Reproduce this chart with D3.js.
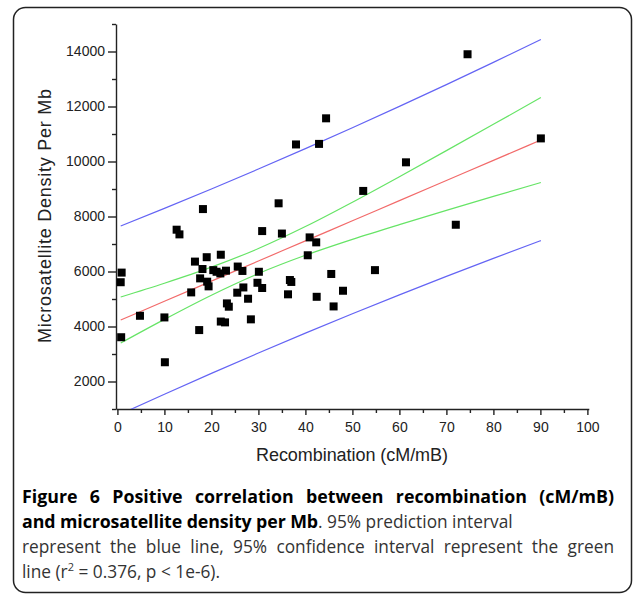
<!DOCTYPE html>
<html>
<head>
<meta charset="utf-8">
<script src="https://cdn.jsdelivr.net/npm/d3@7"></script>
<style>
  body { margin: 0; background: #fff; }
  .axis text { font-family: "Liberation Sans", Arial, sans-serif; font-size: 14px; fill: #222; }
  .axis path, .axis line { stroke: #222; stroke-width: 1.4; }
</style>
</head>
<body>
<div id="chart"></div>
<script>
// points
var recomb = [0.7, 0.9, 0.8, 4.8, 10.0, 10.1, 12.6, 13.2, 15.7, 16.5, 17.4, 17.6, 18.1, 19.0, 19.1, 19.4,
    20.4, 21.1, 22.0, 21.9, 22.0, 22.9, 23.1, 23.3, 23.7, 25.6, 25.5, 26.6, 26.8, 27.8, 28.4, 30.1, 29.8,
    30.8, 30.8, 35.0, 36.3, 36.7, 37.0, 40.9, 42.3, 40.5, 42.4, 45.5, 48.0, 46.0, 54.8, 72.0, 74.5, 90.1,
    61.4, 52.3, 44.4, 42.9, 38.0, 34.3, 18.2];
var density = [5610, 5960, 3610, 4390, 4330, 2700, 7520, 7350, 5240, 6360, 3870, 5750, 6090, 6520, 5630, 5460,
    6050, 5990, 6610, 5930, 4180, 4150, 6030, 4840, 4720, 6180, 5230, 6020, 5420, 5010, 4260, 5990, 5590,
    5400, 7470, 7380, 5170, 5690, 5620, 7240, 7060, 6590, 5080, 5910, 5300, 4730, 6050, 7700, 13900, 10840,
    9970, 8930, 11570, 10640, 10620, 8480, 8270];

// fitted line and interval curves, sampled from the figure
var curveX     = [0.7, 10, 20, 30, 40, 50, 60, 70, 80, 90.1];
var fitY       = [4236, 4917, 5649, 6381, 7113, 7845, 8577, 9309, 10041, 10780];
var confUpper  = [5072, 5574, 6159, 6836, 7635, 8520, 9448, 10395, 11352, 12324];
var confLower  = [3400, 4260, 5139, 5926, 6591, 7170, 7706, 8223, 8730, 9236];
var predUpper  = [7654, 8296, 9002, 9726, 10468, 11227, 12004, 12797, 13605, 14436];
var predLower  = [818, 1538, 2296, 3036, 3758, 4463, 5150, 5821, 6477, 7124];

var xMajor = d3.range(0, 101, 10);
var xMinor = d3.range(5, 100, 10);
var yMajor = d3.range(2000, 14001, 2000);
var yMinor = d3.range(1000, 15001, 2000);

var svgWidth = 634;
var svgHeight = 596;

var svg = d3.select("#chart")
    .append("svg")
    .attr("width", svgWidth)
    .attr("height", svgHeight);

// rounded frame around figure + caption
svg.append("rect")
    .attr("x", 13.5)
    .attr("y", 7.5)
    .attr("width", 618)
    .attr("height", 585)
    .attr("rx", 12)
    .attr("fill", "none")
    .attr("stroke", "#222")
    .attr("stroke-width", 1.5);

var xScale = d3.scaleLinear().domain([-0.3, 100.3]).range([116, 588.8]);
var yScale = d3.scaleLinear().domain([1000, 15000]).range([409, 24]);

// clip for the curves
svg.append("clipPath").attr("id", "plotClip")
    .append("rect")
    .attr("x", 116).attr("y", 24)
    .attr("width", 473).attr("height", 385);

// axes
svg.append("g")
    .attr("class", "axis")
    .attr("transform", "translate(0,409)")
    .call(d3.axisBottom(xScale).tickValues(xMajor).tickSize(6).tickPadding(7).tickSizeOuter(0));

svg.append("g")
    .attr("class", "axis")
    .attr("transform", "translate(0,409)")
    .call(d3.axisBottom(xScale).tickValues(xMinor).tickSize(4).tickFormat("").tickSizeOuter(0))
    .select(".domain").remove();

svg.append("g")
    .attr("class", "axis")
    .attr("transform", "translate(116,0)")
    .call(d3.axisLeft(yScale).tickValues(yMajor).tickFormat(d3.format("d"))
        .tickSize(8).tickPadding(3).tickSizeOuter(0));

svg.append("g")
    .attr("class", "axis")
    .attr("transform", "translate(116,0)")
    .call(d3.axisLeft(yScale).tickValues(yMinor).tickSize(4).tickFormat("").tickSizeOuter(0))
    .select(".domain").remove();

// axis titles
svg.append("text")
    .attr("x", 352)
    .attr("y", 461)
    .attr("text-anchor", "middle")
    .attr("textLength", 192)
    .style("font-family", "Liberation Sans, Arial, sans-serif")
    .style("font-size", "18px")
    .style("fill", "#222")
    .text("Recombination (cM/mB)");

svg.append("text")
    .attr("transform", "translate(51,216) rotate(-90)")
    .attr("text-anchor", "middle")
    .attr("textLength", 254)
    .style("font-family", "Liberation Sans, Arial, sans-serif")
    .style("font-size", "18px")
    .style("fill", "#222")
    .text("Microsatellite Density Per Mb");

// curves
var curves = [
    { ys: predUpper, color: "#6464f4" },
    { ys: predLower, color: "#6464f4" },
    { ys: confUpper, color: "#66e466" },
    { ys: confLower, color: "#66e466" },
    { ys: fitY, color: "#f26a6a" }
];

var line = d3.line()
    .x(function (d) { return xScale(d[0]); })
    .y(function (d) { return yScale(d[1]); })
    .curve(d3.curveMonotoneX);

var curveGroup = svg.append("g").attr("clip-path", "url(#plotClip)");
curves.forEach(function (c) {
    curveGroup.append("path")
        .datum(curveX.map(function (x, i) { return [x, c.ys[i]]; }))
        .attr("d", line)
        .attr("fill", "none")
        .attr("stroke", c.color)
        .attr("stroke-width", 1.2);
});

// points
svg.append("g")
    .selectAll("rect")
    .data(recomb)
    .enter()
    .append("rect")
    .attr("x", function (d) { return xScale(d) - 4; })
    .attr("y", function (d, i) { return yScale(density[i]) - 4; })
    .attr("width", 8)
    .attr("height", 8)
    .attr("fill", "#000");

// caption
var cap = svg.append("g")
    .style("font-family", "'Open Sans', 'Noto Sans', sans-serif")
    .style("font-size", "17.3px");

// stretch / squeeze a caption piece so it spans x0..x1
function fitText(t, x0, x1) {
    t.attr("x", x0);
    var w = t.node().getComputedTextLength();
    var txt = t.text();
    var diff = (x1 - x0) - w;
    var spaces = txt.split(" ").length - 1;
    if (diff > 0 && spaces > 0) {
        t.style("word-spacing", (diff / spaces) + "px");
    } else {
        t.style("letter-spacing", (diff / txt.length) + "px");
    }
    return t;
}

function capText(y, str, bold) {
    return cap.append("text")
        .attr("y", y)
        .style("font-weight", bold ? "bold" : "normal")
        .style("font-size", bold ? "17.8px" : null)
        .style("fill", bold ? "#000" : "#333")
        .text(str);
}

fitText(capText(503, "Figure 6 Positive correlation between recombination (cM/mB)", true), 22, 614);
fitText(capText(528, "and microsatellite density per Mb", true), 22, 318);
capText(528, ". 95% prediction interval", false).attr("x", 318);
fitText(capText(553, "represent the blue line, 95% confidence interval represent the green", false), 22, 614);

var l4 = cap.append("text").attr("x", 22).attr("y", 578)
    .style("fill", "#333");
l4.append("tspan").text("line (r");
l4.append("tspan").attr("dy", -7).style("font-size", "11px").text("2");
l4.append("tspan").attr("dy", 7).text(" = 0.376, p < 1e-6).");
</script>
</body>
</html>
